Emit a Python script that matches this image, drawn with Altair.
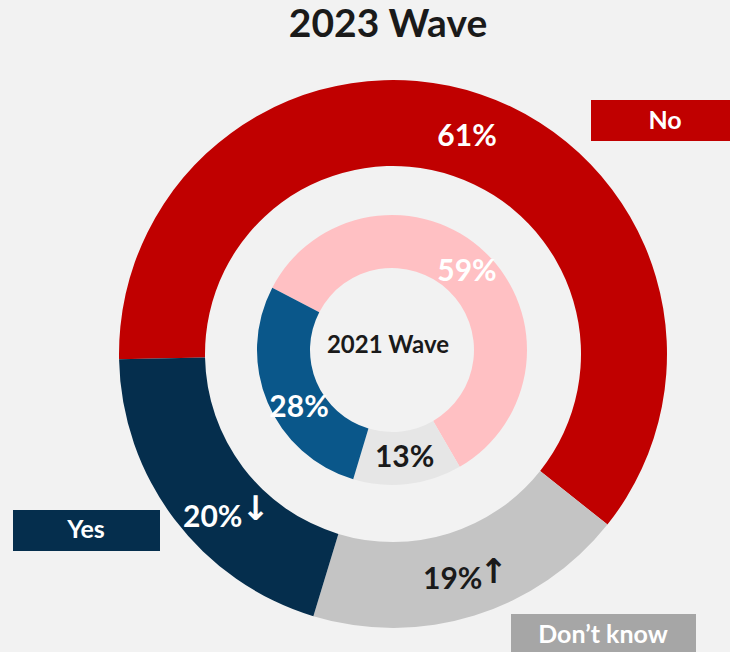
import math
import altair as alt
import pandas as pd

# Survey answers, same category order in both waves
categories = ["No", "Don’t know", "Yes"]
wave_2023 = [61, 19, 20]
wave_2021 = [59, 13, 28]
trend_2023 = ["", "↑", "↓"]

FONT = "Lato"
BG = "#f2f2f2"
DARK = "#1a1a1a"

outer_palette = ["#c00000", "#c4c4c4", "#052e4d"]
inner_palette = ["#ffc0c3", "#e6e6e6", "#0a578a"]
outer_text_colors = ["white", DARK, "white"]
inner_text_colors = ["white", DARK, "white"]


def ring_frame(values, trends=None):
    return pd.DataFrame({
        "cat": categories,
        "idx": list(range(len(categories))),
        "value": values,
        "label": [f"{v}%" for v in values],
        "trend": trends if trends else [""] * len(values),
    })


def ring(values, cx, cy, r_out, r_in, start_deg, palette, text_colors,
         nudges, trends=None, arrow_shift=None):
    start = math.radians(start_deg)
    base = alt.Chart(ring_frame(values, trends)).encode(
        theta=alt.Theta("value:Q", stack=True,
                        scale=alt.Scale(range=[start, start + 2 * math.pi])),
        order=alt.Order("idx:Q"),
        detail="cat:N",
        x=alt.value(cx),
        y=alt.value(cy),
    )
    arc = base.mark_arc(outerRadius=r_out, innerRadius=r_in).encode(
        color=alt.Color("cat:N", scale=alt.Scale(domain=categories, range=palette),
                        legend=None)
    )
    layers = [arc]
    r_mid = (r_out + r_in) / 2
    for i, cat in enumerate(categories):
        dx, dy = nudges.get(i, (0, 0))
        layers.append(
            base.mark_text(radius=r_mid, font=FONT, fontSize=30, fontWeight="bold",
                           color=text_colors[i], dx=dx, dy=dy).encode(
                text=alt.condition(f"datum.idx == {i}", "label:N", alt.value(""))
            )
        )
        if trends and trends[i]:
            adx, ady = arrow_shift[i]
            layers.append(
                base.mark_text(radius=r_mid, font="DejaVu Sans", fontSize=34,
                               fontWeight="bold", color=text_colors[i],
                               dx=adx, dy=ady).encode(
                    text=alt.condition(f"datum.idx == {i}", "trend:N", alt.value(""))
                )
            )
    return alt.layer(*layers)


outer = ring(wave_2023, 393, 354, 274, 188, 268.9, outer_palette, outer_text_colors,
             nudges={0: (0, 2), 1: (-9, 5), 2: (4, 25)},
             trends=trend_2023, arrow_shift={1: (32, -2), 2: (47, 17)})
inner = ring(wave_2021, 392, 350, 135, 82, 297.5, inner_palette, inner_text_colors,
             nudges={2: (7, 16)})

one = pd.DataFrame({"k": [0]})


def text_at(txt, x, y, size, color=DARK):
    return alt.Chart(one).mark_text(
        text=txt, font=FONT, fontSize=size, fontWeight="bold", color=color,
        align="center", baseline="alphabetic"
    ).encode(x=alt.value(x), y=alt.value(y))


def key_box(label, x0, x1, y0, y1, fill, text_x, baseline_y):
    box = alt.Chart(one).mark_rect(color=fill).encode(
        x=alt.value(x0), x2=alt.value(x1), y=alt.value(y0), y2=alt.value(y1)
    )
    return box + text_at(label, text_x, baseline_y, 25, "white")


title = text_at("2023 Wave", 388, 37, 39)
center_label = text_at("2021 Wave", 388, 353, 24)

keys = [
    key_box(categories[0], 591, 740, 100, 141, "#c00000", 665, 129),
    key_box(categories[2], 13, 160, 510, 551, "#052e4d", 86, 538),
    key_box(categories[1], 511, 696, 614, 656, "#a6a6a6", 603, 643),
]

chart = alt.layer(outer, inner, title, center_label, *keys).resolve_scale(
    theta="independent", color="independent"
).properties(
    width=730, height=652, background=BG, padding=0,
    autosize=alt.AutoSizeParams(type="none"),
).configure_view(stroke=None, fill=BG)

chart.save("out.html", embed_options={"renderer": "svg", "actions": False})
